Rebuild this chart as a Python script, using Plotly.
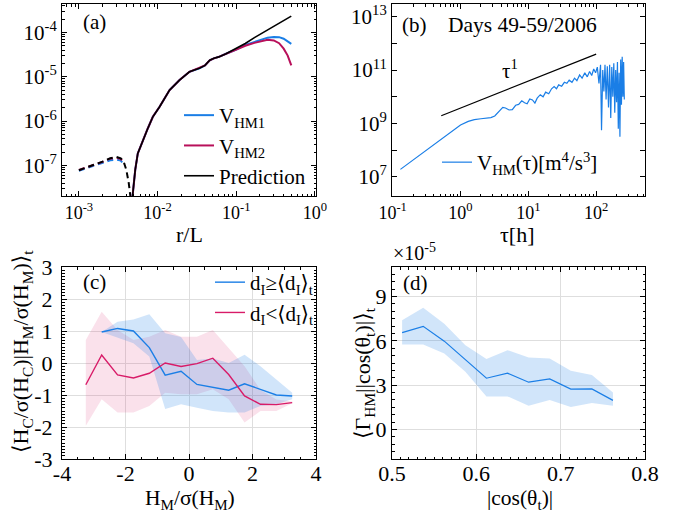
import plotly.graph_objects as go

# ---- panel (a): structure function vs r/L ----
r_neg_black = [0.001, 0.0015, 0.002, 0.0025, 0.003, 0.0034, 0.0037, 0.0040, 0.0043, 0.0046]
v_neg_black = [7.8e-8, 1.0e-7, 1.22e-7, 1.45e-7, 1.55e-7, 1.45e-7, 1.22e-7, 8.0e-8, 4.0e-8, 1.5e-8]
r_neg_col = [0.001, 0.0015, 0.002, 0.0025, 0.003, 0.0034, 0.0038]
v_neg_blue = [7.6e-8, 9.6e-8, 1.15e-7, 1.3e-7, 1.35e-7, 1.28e-7, 1.0e-7]
v_neg_mag = [7.9e-8, 1.0e-7, 1.2e-7, 1.42e-7, 1.5e-7, 1.4e-7, 1.08e-7]

r_pos = [0.0048, 0.0052, 0.0056, 0.0065, 0.0075, 0.0087, 0.0106, 0.0142, 0.019, 0.0254,
         0.030, 0.034, 0.040, 0.046, 0.052, 0.060, 0.074, 0.10, 0.13, 0.17, 0.21, 0.25,
         0.30, 0.35, 0.40, 0.45, 0.50]
v_hm1 = [2.0e-8, 8e-8, 1.86e-7, 3.7e-7, 6.8e-7, 1.25e-6, 2.1e-6, 5.0e-6, 8.4e-6, 1.29e-5,
         1.42e-5, 1.55e-5, 1.8e-5, 2.35e-5, 2.6e-5, 2.8e-5, 3.3e-5, 4.1e-5, 5.2e-5, 6.1e-5,
         6.9e-5, 7.6e-5, 7.9e-5, 7.8e-5, 7.2e-5, 6.3e-5, 5.5e-5]
v_hm2 = [2.0e-8, 8e-8, 1.86e-7, 3.7e-7, 6.8e-7, 1.25e-6, 2.1e-6, 5.0e-6, 8.4e-6, 1.29e-5,
         1.45e-5, 1.55e-5, 1.8e-5, 2.35e-5, 2.6e-5, 2.8e-5, 3.3e-5, 4.1e-5, 5.0e-5, 5.8e-5,
         6.4e-5, 6.8e-5, 6.6e-5, 5.7e-5, 4.3e-5, 3.0e-5, 1.8e-5]
v_pred = [2.0e-8, 8e-8, 1.86e-7, 3.7e-7, 6.8e-7, 1.25e-6, 2.1e-6, 5.0e-6, 8.4e-6, 1.29e-5,
          1.42e-5, 1.55e-5, 1.8e-5, 2.35e-5, 2.6e-5, 2.8e-5, 3.3e-5, 4.3e-5, 5.6e-5, 7.6e-5,
          9.5e-5, 1.14e-4, 1.38e-4, 1.6e-4, 1.85e-4, 2.1e-4, 2.33e-4]

# ---- panel (b): V_HM(tau) ----
tau = [0.13, 0.2, 0.3, 0.5, 0.7, 1.0, 1.3, 1.6, 2.0, 2.4, 2.8, 3.2, 3.7, 4.2, 4.6, 5.2, 5.8,
       6.5, 7.2, 8.0, 8.8, 9.6, 10.5, 11.5, 12.5, 13.5, 15, 16.5, 18, 20, 22, 24, 26, 28,
       31, 34, 37, 40, 44, 48, 52, 57, 62, 68, 74, 80, 86, 92, 98, 104, 110, 116, 120, 125,
       130, 135, 140, 146, 152, 158, 164, 170, 176, 182, 188, 194, 200, 206, 212, 218, 224,
       230, 236, 242, 248, 254, 260]
v_tau = [1.9e7, 4.3e7, 9.1e7, 2.3e8, 4.5e8, 8.7e8, 1.2e9, 1.4e9, 1.5e9, 1.55e9, 1.65e9,
         1.9e9, 2.8e9, 4.0e9, 3.8e9, 3.2e9, 3.3e9, 4.8e9, 5.2e9, 7.1e9, 6.0e9, 5.5e9, 8.3e9,
         7.6e9, 5.8e9, 8.9e9, 1.2e10, 1.0e10, 1.5e10, 1.3e10, 2.0e10, 2.4e10, 2.0e10, 2.8e10,
         2.5e10, 3.5e10, 3.2e10, 4.2e10, 3.5e10, 5.0e10, 4.0e10, 6.6e10, 5.0e10, 7.9e10,
         5.6e10, 8.9e10, 6.3e10, 1.1e11, 7.9e10, 1.3e11, 3.2e10, 1.6e11, 5.6e8, 1.0e11,
         1.6e10, 1.6e11, 7.9e9, 1.4e11, 4.0e9, 1.6e11, 1.6e9, 1.3e11, 1.0e10, 1.8e11, 2.5e9,
         1.0e11, 6.3e9, 2.0e11, 6.3e8, 7.9e10, 3.2e8, 2.5e11, 5.0e9, 3.2e11, 1.0e10, 2.0e11,
         7.9e9]
tau_fit = [0.52, 100]
v_fit = [1.95e9, 4.0e11]

# ---- panel (c): conditional average ----
hm_blue = [-2.75, -2.25, -1.75, -1.25, -0.75, -0.25, 0.25, 0.75, 1.25, 1.75, 2.25, 2.75, 3.25]
hc_blue = [0.97, 1.08, 1.0, 0.48, -0.38, -0.26, -0.67, -0.75, -0.85, -0.65, -0.82, -1.0, -1.03]
hc_blue_hi = [0.97, 1.29, 1.36, 1.52, 0.93, 0.81, 0.09, 0.14, 0.0, 0.26, -0.1, -0.52, -0.93]
hc_blue_lo = [0.97, 0.8, 0.62, 0.2, -1.44, -1.29, -1.4, -1.5, -1.55, -1.55, -1.34, -1.29, -1.13]
hm_red = [-3.25, -2.75, -2.25, -1.75, -1.25, -0.75, -0.25, 0.25, 0.75, 1.25, 1.75, 2.25, 2.75, 3.25]
hc_red = [-0.68, 0.25, -0.37, -0.47, -0.32, 0.0, -0.11, -0.02, 0.15, -0.36, -1.03, -1.29, -1.3, -1.24]
hc_red_hi = [0.72, 1.6, 1.03, 0.72, 0.82, 1.03, 0.82, 0.82, 1.03, 0.46, -0.1, -0.84, -1.14, -1.2]
hc_red_lo = [-1.96, -1.13, -1.55, -1.55, -1.34, -0.93, -0.98, -0.98, -0.82, -1.13, -1.86, -1.5, -1.5, -1.26]

# ---- panel (d): Gamma_HM vs |cos(theta_t)| (units of 1e-5) ----
cos_t = [0.512, 0.537, 0.562, 0.587, 0.612, 0.637, 0.662, 0.687, 0.712, 0.737, 0.762]
gam = [6.56, 6.98, 5.98, 4.7, 3.47, 3.81, 3.2, 3.42, 2.73, 2.75, 1.97]
gam_hi = [7.39, 8.24, 7.16, 5.7, 4.77, 5.37, 4.88, 4.81, 3.98, 3.69, 2.5]
gam_lo = [5.75, 5.75, 5.15, 3.9, 2.24, 2.24, 1.61, 2.0, 1.52, 1.8, 1.6]

BLUE = "#1a7ee6"
MAG = "#b8105a"
RED = "#d81b68"
FONT = "Times New Roman, Liberation Serif, DejaVu Serif, serif"
W, H = 699, 514

fig = go.Figure()

# (a) negative part as dashed |V|
for r, v, c in [(r_neg_col, v_neg_blue, BLUE), (r_neg_col, v_neg_mag, MAG), (r_neg_black, v_neg_black, "black")]:
    fig.add_trace(go.Scatter(x=r, y=v, mode="lines", line=dict(color=c, width=2, dash="6px,4px"),
                             showlegend=False, xaxis="x", yaxis="y"))
fig.add_trace(go.Scatter(x=r_pos, y=v_hm1, mode="lines", name="V<sub>HM1</sub>",
                         line=dict(color=BLUE, width=2), xaxis="x", yaxis="y", legend="legend"))
fig.add_trace(go.Scatter(x=r_pos, y=v_hm2, mode="lines", name="V<sub>HM2</sub>",
                         line=dict(color=MAG, width=2), xaxis="x", yaxis="y", legend="legend"))
fig.add_trace(go.Scatter(x=r_pos, y=v_pred, mode="lines", name="Prediction",
                         line=dict(color="black", width=1.6), xaxis="x", yaxis="y", legend="legend"))

# (b)
fig.add_trace(go.Scatter(x=tau, y=v_tau, mode="lines", name="V<sub>HM</sub>(τ)[m<sup>4</sup>/s<sup>3</sup>]",
                         line=dict(color=BLUE, width=1.2), xaxis="x2", yaxis="y2", legend="legend2"))
fig.add_trace(go.Scatter(x=tau_fit, y=v_fit, mode="lines", line=dict(color="black", width=1.2),
                         showlegend=False, xaxis="x2", yaxis="y2"))

# (c) bands then lines
fig.add_trace(go.Scatter(x=hm_red + hm_red[::-1], y=hc_red_hi + hc_red_lo[::-1], fill="toself",
                         fillcolor="rgba(216,27,104,0.13)", line=dict(width=0), mode="lines",
                         showlegend=False, hoverinfo="skip", xaxis="x3", yaxis="y3"))
fig.add_trace(go.Scatter(x=hm_blue + hm_blue[::-1], y=hc_blue_hi + hc_blue_lo[::-1], fill="toself",
                         fillcolor="rgba(26,126,230,0.2)", line=dict(width=0), mode="lines",
                         showlegend=False, hoverinfo="skip", xaxis="x3", yaxis="y3"))
fig.add_trace(go.Scatter(x=hm_blue, y=hc_blue, mode="lines", name="d<sub>I</sub>≥⟨d<sub>I</sub>⟩<sub>t</sub>",
                         line=dict(color=BLUE, width=1.4), xaxis="x3", yaxis="y3", legend="legend3"))
fig.add_trace(go.Scatter(x=hm_red, y=hc_red, mode="lines", name="d<sub>I</sub>&lt;⟨d<sub>I</sub>⟩<sub>t</sub>",
                         line=dict(color=RED, width=1.4), xaxis="x3", yaxis="y3", legend="legend3"))

# (d)
fig.add_trace(go.Scatter(x=cos_t + cos_t[::-1], y=gam_hi + gam_lo[::-1], fill="toself",
                         fillcolor="rgba(26,126,230,0.2)", line=dict(width=0), mode="lines",
                         showlegend=False, hoverinfo="skip", xaxis="x4", yaxis="y4"))
fig.add_trace(go.Scatter(x=cos_t, y=gam, mode="lines", line=dict(color=BLUE, width=1.2),
                         showlegend=False, xaxis="x4", yaxis="y4"))

top_x_font = dict(family=FONT, size=18, color="black")
top_y_font = dict(family=FONT, size=21, color="black")
bot_font = dict(family=FONT, size=22, color="black")
base = dict(showline=True, linecolor="black", linewidth=1, mirror="ticks", ticks="inside",
            ticklen=5, tickcolor="black", zeroline=False, showgrid=False, automargin=False)

XA = [62 / W, 316 / W]
XB = [392 / W, 645 / W]
YT = [1 - 196 / H, 1 - 4 / H]
YB = [1 - 459 / H, 1 - 267 / H]

dec_a_x = [1e-3, 1e-2, 1e-1, 1]
lab_a_x = ["10<sup>-3</sup>", "10<sup>-2</sup>", "10<sup>-1</sup>", "10<sup>0</sup>"]
dec_a_y = [1e-7, 1e-6, 1e-5, 1e-4]
lab_a_y = ["10<sup>-7</sup>", "10<sup>-6</sup>", "10<sup>-5</sup>", "10<sup>-4</sup>"]
dec_b_x = [0.1, 1, 10, 100]
lab_b_x = ["10<sup>-1</sup>", "10<sup>0</sup>", "10<sup>1</sup>", "10<sup>2</sup>"]
dec_b_y = [1e7, 1e8, 1e9, 1e10, 1e11, 1e12, 1e13]
lab_b_y = ["10<sup>7</sup>", "", "10<sup>9</sup>", "", "10<sup>11</sup>", "", "10<sup>13</sup>"]
tick_c_x = [-4, -2, 0, 2, 4]
lab_c_x = ["-4", "-2", "0", "2", "4"]
tick_c_y = [-3, -2, -1, 0, 1, 2, 3]
lab_c_y = ["-3", "-2", "-1", "0", "1", "2", "3"]


def log_minor(lo, hi):
    # minor tick positions 2..9 within each decade
    return dict(ticks="inside", ticklen=2.5, tickcolor="black", tickmode="array",
                tickvals=[m * 10.0 ** e for e in range(lo, hi) for m in range(2, 10)])


def lin_minor(step):
    return dict(ticks="inside", ticklen=2.5, tickcolor="black", dtick=step)


fig.update_layout(
    width=W, height=H, margin=dict(l=0, r=0, t=0, b=0),
    paper_bgcolor="white", plot_bgcolor="white",
    font=dict(family=FONT, color="black"),
    xaxis=dict(base, domain=XA, anchor="y", type="log", range=[-3.215, 0.013], tickfont=top_x_font,
               tickmode="array", tickvals=dec_a_x, ticktext=lab_a_x, minor=log_minor(-4, 1)),
    yaxis=dict(base, domain=YT, anchor="x", type="log", range=[-7.69, -3.36], tickfont=top_y_font,
               tickmode="array", tickvals=dec_a_y, ticktext=lab_a_y, minor=log_minor(-8, -3)),
    xaxis2=dict(base, domain=XB, anchor="y2", type="log", range=[-1.01, 2.72], tickfont=top_x_font,
                tickmode="array", tickvals=dec_b_x, ticktext=lab_b_x, minor=log_minor(-2, 3)),
    yaxis2=dict(base, domain=YT, anchor="x2", type="log", range=[6.28, 13.48], tickfont=top_y_font,
                tickmode="array", tickvals=dec_b_y, ticktext=lab_b_y),
    xaxis3=dict(base, domain=XA, anchor="y3", range=[-4, 4], tickmode="array", tickfont=bot_font,
                tickvals=tick_c_x, ticktext=lab_c_x, showgrid=True, gridcolor="#dedede",
                minor=lin_minor(0.5), ticklabelstandoff=-5),
    yaxis3=dict(base, domain=YB, anchor="x3", range=[-3, 3], tickmode="array", tickfont=bot_font,
                tickvals=tick_c_y, ticktext=lab_c_y, showgrid=True, gridcolor="#dedede",
                minor=lin_minor(0.1), ticklabelstandoff=4),
    xaxis4=dict(base, domain=XB, anchor="y4", range=[0.5, 0.8], dtick=0.1, tickformat=".1f",
                tickfont=bot_font, showgrid=True, gridcolor="#dedede", minor=lin_minor(0.01),
                ticklabelstandoff=-5),
    yaxis4=dict(base, domain=YB, anchor="x4", range=[-2, 11], dtick=3, tickfont=bot_font,
                showgrid=True, gridcolor="#dedede", minor=lin_minor(0.5)),
    legend=dict(x=179 / W, y=1 - 95 / H, xanchor="left", yanchor="top",
                bgcolor="rgba(0,0,0,0)", font=dict(family=FONT, size=21), tracegroupgap=0),
    legend2=dict(x=437 / W, y=1 - 142 / H, xanchor="left", yanchor="top",
                 bgcolor="rgba(0,0,0,0)", font=dict(family=FONT, size=21)),
    legend3=dict(x=210 / W, y=1 - 262 / H, xanchor="left", yanchor="top",
                 bgcolor="rgba(0,0,0,0)", font=dict(family=FONT, size=21)),
    showlegend=True,
)

# panel labels, fit label and axis titles (pixel positions of their centres)
annots = [
    ("(a)", 94, 22, "center", 21, 0),
    ("(b)", 414, 25, "center", 21, 0),
    ("Days 49-59/2006", 446, 25, "left", 21.5, 0),
    ("τ<sup>1</sup>", 510, 70, "center", 21, 0),
    ("(c)", 95, 282, "center", 21, 0),
    ("(d)", 415, 283, "center", 21, 0),
    ("r/L", 189, 235, "center", 22, 0),
    ("τ[h]", 517, 235, "center", 22, 0),
    ("H<sub>M</sub>/σ(H<sub>M</sub>)", 190, 499, "center", 21.5, 0),
    ("|cos(θ<sub>t</sub>)|", 520, 499, "center", 21.5, 0),
    ("⟨H<sub>C</sub>/σ(H<sub>C</sub>)|H<sub>M</sub>/σ(H<sub>M</sub>)⟩<sub>t</sub>", 22, 352, "center", 22, -90),
    ("⟨Γ<sub>HM</sub>||cos(θ<sub>t</sub>)|⟩<sub>t</sub>", 364, 373, "center", 22, -90),
]
for text, px, py, anchor, size, angle in annots:
    fig.add_annotation(text=text, x=px / W, y=1 - py / H, xref="paper", yref="paper",
                       xanchor=anchor, yanchor="middle", showarrow=False, textangle=angle,
                       font=dict(family=FONT, size=size, color="black"))
fig.add_annotation(text="×10<sup>-5</sup>", x=391 / W, y=1 - 266 / H, xref="paper", yref="paper",
                   xanchor="left", yanchor="bottom", showarrow=False,
                   font=dict(family=FONT, size=20, color="black"))

# drop the default page margin so the figure sits at the window's corner
fig.write_html("out.html", config={"displayModeBar": False},
               post_script="document.body.style.margin='0px';")
